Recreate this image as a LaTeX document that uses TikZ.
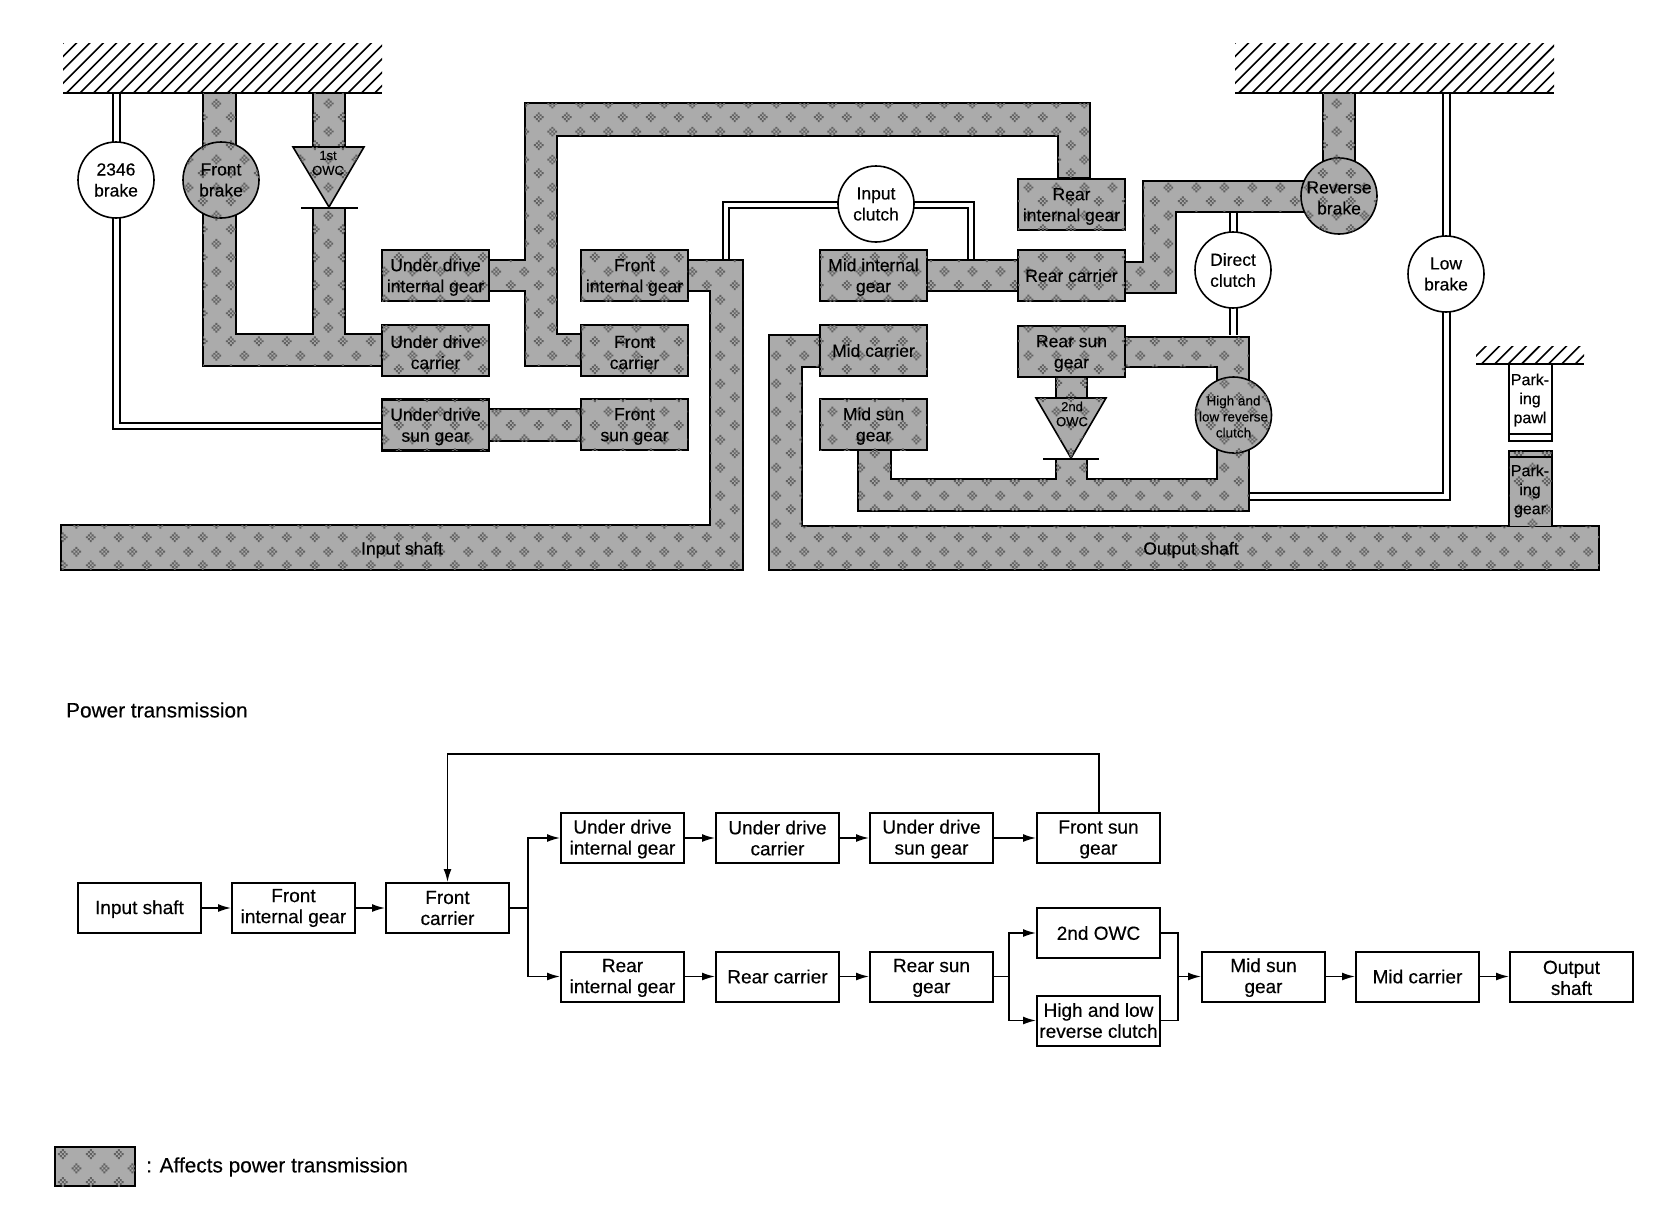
\documentclass[tikz,border=0pt]{standalone}
\usepackage{fontspec}
\setmainfont{Liberation Sans}[FakeBold=0.35]
\usetikzlibrary{arrows.meta,patterns}
\pgfdeclarepatternformonly{ditherdark}{\pgfqpoint{0pt}{0pt}}{\pgfqpoint{28pt}{28pt}}{\pgfqpoint{28pt}{28pt}}{%
  \foreach \ci/\cj in {3/3,10/10}{\foreach \i in {-3,...,3}{\foreach \j in {-3,...,3}{%
    \pgfmathtruncatemacro{\dd}{abs(\i)+abs(\j)}%
    \pgfmathtruncatemacro{\cellpar}{mod(abs(\i+\j),2)}%
    \ifnum\dd<4
      \ifnum\cellpar=0
        \pgfpathrectangle{\pgfpoint{2*\ci pt+2*\i pt}{2*\cj pt+2*\j pt}}{\pgfqpoint{2pt}{2pt}}%
      \fi
    \fi
  }}}%
  \pgfusepath{fill}}
\newcommand{\tp}{\rule{0pt}{16pt}}
\tikzset{
  shade1/.style={fill=black!33,postaction={pattern=ditherdark,pattern color=black!62}},
  tube/.style={draw=black,line width=2pt,line join=miter,shade1},
  gearbox/.style={draw=black,line width=2.2pt,shade1,rectangle,minimum width=107pt,minimum height=51pt,inner sep=0pt,align=center,font=\fontsize{17.5}{21}\selectfont},
  elem/.style={draw=black,line width=1.6pt,fill=white,circle,minimum size=76pt,inner sep=0pt,align=center,font=\fontsize{17.5}{21}\selectfont},
  elemfill/.style={elem,shade1},
  wire/.style={draw=black,line width=2pt},
  groundline/.style={draw=black,line width=2pt},
  hatchline/.style={draw=black,line width=1.6pt},
  flowbox/.style={draw=black,line width=2pt,fill=white,rectangle,minimum width=123pt,minimum height=50pt,inner sep=0pt,align=center,font=\fontsize{19}{21}\selectfont},
  flow/.style={draw=black,line width=1.6pt,-{Latex[length=13pt,width=8pt]}},
  flowplain/.style={draw=black,line width=1.6pt},
  tag/.style={inner sep=0pt,align=center,font=\fontsize{17.5}{21}\selectfont},
  tagwide/.style={inner sep=0pt,anchor=west,font=\fontsize{20.8}{24}\selectfont},
  tagsmall/.style={inner sep=0pt,align=center,font=\fontsize{13}{15}\selectfont},
  partbox/.style={draw=black,line width=2.2pt,rectangle,minimum width=43pt,inner sep=0pt}
}
\begin{document}
\begin{tikzpicture}[x=1pt,y=-1pt]
\useasboundingbox (0,0) rectangle (1660,1216);
% grounds
\foreach \xa/\xb in {63/382,1235/1554}{
  \begin{scope}
    \clip (\xa,43) rectangle (\xb,93);
    \pgfmathsetmacro{\xs}{\xa-50}
    \foreach \k in {0,...,27}{
      \draw[hatchline] (\xs+13.4*\k,93) -- ++(52,-52);
    }
  \end{scope}
  \draw[groundline] (\xa,93) -- (\xb,93);
}
\begin{scope}
  \clip (1476,346) rectangle (1584,364);
  \foreach \k in {0,...,10}{
    \draw[hatchline] (1468+13.4*\k,364) -- ++(20,-20);
  }
\end{scope}
\draw[groundline] (1476,364) -- (1584,364);
% double wires
\draw[wire,line width=1.8pt] (120,93) -- (120,423) -- (382,423);
\draw[wire,line width=2.4pt] (113,93) -- (113,429) -- (382,429);
\draw[wire] (723,260) -- (723,202) -- (974,202) -- (974,260);
\draw[wire] (729,260) -- (729,208) -- (968,208) -- (968,260);
\draw[wire] (1230,212) -- (1230,335);
\draw[wire] (1237,212) -- (1237,335);
\draw[wire] (1443,93) -- (1443,493) -- (1249,493);
\draw[wire] (1450,93) -- (1450,500) -- (1249,500);
% tubes
\draw[tube] (203,93) -- (236,93) -- (236,334) -- (313,334) -- (313,208) -- (345,208) -- (345,334) -- (382,334) -- (382,366) -- (203,366) -- cycle;
\draw[tube] (313,93) rectangle (345,147);
\draw[tube] (489,260) -- (525,260) -- (525,103) -- (1090,103) -- (1090,178) -- (1058,178) -- (1058,136) -- (557,136) -- (557,334) -- (581,334) -- (581,366) -- (525,366) -- (525,291) -- (489,291) -- cycle;
\draw[tube] (489,409) rectangle (581,441);
\draw[tube] (688,260) -- (743,260) -- (743,570) -- (61,570) -- (61,525) -- (710,525) -- (710,291) -- (688,291) -- cycle;
\draw[tube] (927,260) rectangle (1018,291);
\draw[tube] (1125,262) -- (1143,262) -- (1143,181) -- (1320,181) -- (1320,212) -- (1176,212) -- (1176,293) -- (1125,293) -- cycle;
\draw[tube] (1323,93) rectangle (1355,170);
\draw[tube] (820,335) -- (769,335) -- (769,570) -- (1599,570) -- (1599,526) -- (802,526) -- (802,367) -- (820,367) -- cycle;
\draw[tube] (1125,337) -- (1249,337) -- (1249,511) -- (858,511) -- (858,450) -- (891,450) -- (891,479) -- (1056,479) -- (1056,459) -- (1087,459) -- (1087,479) -- (1217,479) -- (1217,367) -- (1125,367) -- cycle;
\draw[tube] (1056,377) rectangle (1087,398);
% gear boxes
\node[gearbox] (udi) at (435.5,275.5) {\tp Under drive\\internal gear};
\node[gearbox] (udc) at (435.5,350.5) {\tp Under drive\\carrier};
\node[gearbox] (uds) at (435.5,425) {\tp Under drive\\sun gear};
\node[gearbox] (fri) at (634.5,275.5) {\tp Front\\internal gear};
\node[gearbox] (frc) at (634.5,350.5) {\tp Front\\carrier};
\node[gearbox] (frs) at (634.5,424.5) {\tp Front\\sun gear};
\node[gearbox] (mii) at (873.5,275.5) {\tp Mid internal\\gear};
\node[gearbox] (mic) at (873.5,350.5) {Mid carrier};
\node[gearbox] (mis) at (873.5,424.5) {\tp Mid sun\\gear};
\node[gearbox] (rei) at (1071.5,204.5) {\tp Rear\\internal gear};
\node[gearbox] (rec) at (1071.5,275.5) {Rear carrier};
\node[gearbox] (res) at (1071.5,351.5) {\tp Rear sun\\gear};
% circles
\node[elem] (b2346) at (116,180) {2346\\brake};
\node[elemfill] (fbr) at (221,180) {Front\\brake};
\node[elem] (icl) at (876,204) {Input\\clutch};
\node[elemfill] (rbr) at (1339,196) {\tp Reverse\\brake};
\node[elem] (dcl) at (1233,270) {Direct\\clutch};
\node[elem] (lbr) at (1446,274) {Low\\brake};
\node[elemfill,inner sep=-7pt,font=\fontsize{13.5}{16}\selectfont] (hlr) at (1233.5,415) {\rule{0pt}{13pt}High and\\low reverse\\clutch};
% one-way clutches
\draw[tube,line width=1.6pt] (293,147) -- (364,147) -- (329,207) -- cycle;
\draw[groundline] (301,208) -- (358,208);
\node[tagsmall] (owc1) at (328,163) {1st\\OWC};
\draw[tube,line width=1.6pt] (1036,398) -- (1106,398) -- (1071,458) -- cycle;
\draw[groundline] (1043,459) -- (1099,459);
\node[tagsmall] (owc2) at (1072,414) {2nd\\OWC};
% shafts text
\node[tag] (ish) at (402,550) {Input shaft};
\node[tag] (osh) at (1191,550) {Output shaft};
% parking
\draw[partbox,fill=white] (1509,364) rectangle (1552,441);
\draw[draw=black,line width=1.6pt] (1509,434) -- (1552,434);
\node[tag,font=\fontsize{16}{19}\selectfont] (pawl) at (1530,400) {Park-\\ing\\pawl};
\draw[partbox,shade1] (1509,526) -- (1509,451) -- (1552,451) -- (1552,526);
\draw[draw=black,line width=1.6pt] (1509,457) -- (1552,457);
\node[tag,font=\fontsize{16}{19}\selectfont] (pgear) at (1530,491) {Park-\\ing\\gear};
% lower diagram
\node[tagwide] (ptitle) at (66,710) {Power transmission};
\node[flowbox] (a1) at (139.5,908) {\tp Input shaft};
\node[flowbox] (a2) at (293.5,908) {Front\\internal gear};
\node[flowbox] (a3) at (447.5,908) {Front\\carrier};
\node[flowbox] (b1) at (622.5,838) {\tp Under drive\\internal gear};
\node[flowbox] (b2) at (777.5,838) {Under drive\\carrier};
\node[flowbox] (b3) at (931.5,838) {\tp Under drive\\sun gear};
\node[flowbox] (b4) at (1098.5,838) {\tp Front sun\\gear};
\node[flowbox] (c1) at (622.5,976.5) {\tp Rear\\internal gear};
\node[flowbox] (c2) at (777.5,976.5) {Rear carrier};
\node[flowbox] (c3) at (931.5,976.5) {\tp Rear sun\\gear};
\node[flowbox] (d1) at (1098.5,933) {2nd OWC};
\node[flowbox] (d2) at (1098.5,1020.5) {High and low\\reverse clutch};
\node[flowbox] (e1) at (1263.5,976.5) {\tp Mid sun\\gear};
\node[flowbox] (e2) at (1417.5,976.5) {Mid carrier};
\node[flowbox] (e3) at (1571.5,976.5) {\tp Output\\shaft};
\draw[flow] (a1) -- (a2);
\draw[flow] (a2) -- (a3);
\draw[flow] (b1) -- (b2);
\draw[flow] (b2) -- (b3);
\draw[flow] (b3) -- (b4);
\draw[flow] (c1) -- (c2);
\draw[flow] (c2) -- (c3);
\draw[flow] (e1) -- (e2);
\draw[flow] (e2) -- (e3);
\coordinate (j1) at (528,908);
\draw[flowplain] (a3) -- (j1);
\draw[flow] (j1) |- (b1);
\draw[flow] (j1) |- (c1);
\coordinate (fb1) at (1099,754);
\coordinate (fb2) at (447.5,754);
\draw[flow] (b4.north -| fb1) -- (fb1) -- (fb2) -- (a3);
\coordinate (j2) at (1009,976.5);
\draw[flowplain] (c3) -- (j2);
\draw[flow] (j2) |- (d1);
\draw[flow] (j2) |- (d2);
\coordinate (j3) at (1178,976.5);
\draw[flowplain] (d1) -| (j3);
\draw[flowplain] (d2) -| (j3);
\draw[flow] (j3) -- (e1);
% legend
\node[draw=black,line width=2.4pt,shade1,rectangle,minimum width=80pt,minimum height=39pt,inner sep=0pt] (leg) at (95,1166.5) {};
\node[tagwide] (legt) at (146,1167) {: Affects power transmission};
\end{tikzpicture}
\end{document}
